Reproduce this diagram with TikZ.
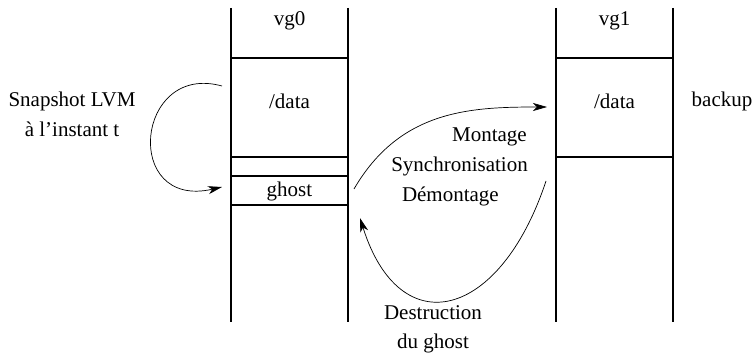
\documentclass[tikz,border=0pt]{standalone}
\usepackage{fontspec}
\setmainfont{Liberation Serif}
\usetikzlibrary{arrows.meta}
\begin{document}
\begin{tikzpicture}[x=1pt,y=-1pt,
  wall/.style={line width=1.1pt},
  lbl/.style={font=\fontsize{21}{25}\selectfont, inner sep=0pt},
  flow/.style={line width=0.7pt,-{Stealth[length=14pt,width=8pt,inset=4pt]}}]
\useasboundingbox (0,0) rectangle (756,353);
% volume group columns
\draw[wall] (231,8) -- (231,322);
\draw[wall] (348,8) -- (348,322);
\draw[wall] (556,8) -- (556,322);
\draw[wall] (673,8) -- (673,322);
% logical volumes
\draw[wall] (231,58) rectangle (348,157);
\draw[wall] (231,176) rectangle (348,205);
\draw[wall] (556,58) rectangle (673,157);
% labels
\node[lbl] (vg0) at (289.5,21) {vg0};
\node[lbl] (vg1) at (614.5,21) {vg1};
\node[lbl] (data0) at (289.5,101) {/data};
\node[lbl] (data1) at (614.5,101) {/data};
\node[lbl] (ghost) at (289.5,191) {ghost};
\node[lbl] (backup) at (722,101) {backup};
\node[lbl] (snap1) at (72,101) {Snapshot LVM};
\node[lbl] (snap2) at (72,129) {à l'instant t};
\node[lbl,anchor=east] (mont) at (527,137) {Montage};
\node[lbl,anchor=east] (sync) at (528,166) {Synchronisation};
\node[lbl,anchor=east] (demo) at (499,196) {Démontage};
\node[lbl] (dest) at (433,313) {Destruction};
\node[lbl] (dug) at (433,343) {du ghost};
% connectors
\coordinate (s0) at (222,86);
\coordinate (s1) at (222,187);
\draw[flow] (s0) .. controls (135,62) and (122,210) .. (s1);
\coordinate (m0) at (354,189);
\coordinate (m1) at (547,107);
\draw[flow] (m0) .. controls (400,110) and (470,107) .. (m1);
\coordinate (d0) at (546,181);
\coordinate (d1) at (360,218);
\draw[flow] (d0) .. controls (500,320) and (400,345) .. (d1);
\end{tikzpicture}
\end{document}
